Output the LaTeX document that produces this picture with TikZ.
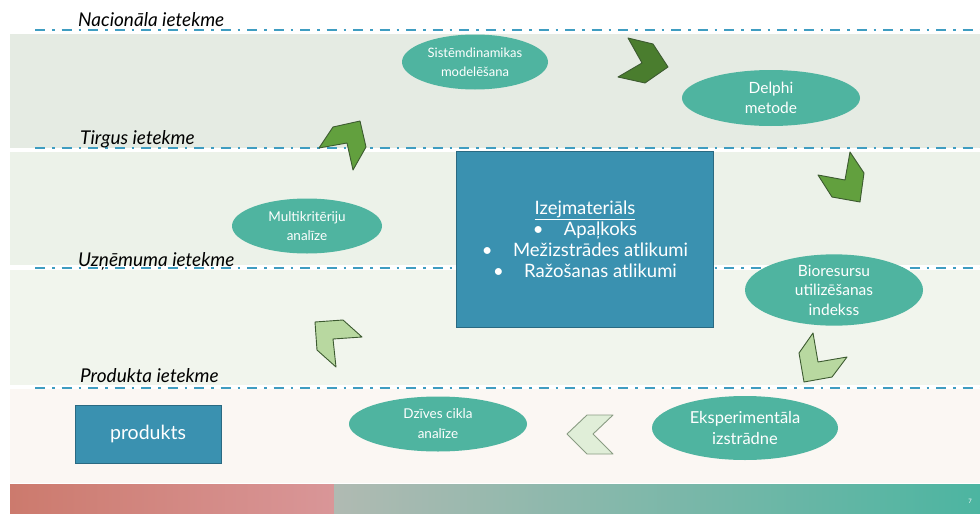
\documentclass[tikz,border=0pt]{standalone}
\usepackage{fontspec}
\setmainfont{Lato}
\usetikzlibrary{shapes.geometric}
\definecolor{bandA}{HTML}{E5EBE3}
\definecolor{bandB}{HTML}{ECF2E9}
\definecolor{bandC}{HTML}{F1F5ED}
\definecolor{bandD}{HTML}{FBF7F3}
\definecolor{dashblue}{HTML}{3F9DC1}
\definecolor{ovalteal}{HTML}{4FB4A0}
\definecolor{boxblue}{HTML}{3A91B0}
\definecolor{boxedge}{HTML}{2A6A82}
\definecolor{chevDark}{HTML}{4A7D2E}
\definecolor{chevMid}{HTML}{62A03E}
\definecolor{chevLight}{HTML}{B8D8A0}
\definecolor{chevPale}{HTML}{E0EED8}
\definecolor{chevEdge}{HTML}{3C5A30}
\definecolor{barRedA}{HTML}{CC7A6D}
\definecolor{barRedB}{HTML}{D99698}
\definecolor{barGreyA}{HTML}{B0BAB2}
\definecolor{barTealB}{HTML}{4CB5A1}
\newcommand{\fsz}[1]{\fontsize{#1}{1.3\dimexpr#1pt\relax}\selectfont}
\tikzset{
  level/.style={draw=dashblue, line width=2.6pt, dash pattern=on 10pt off 7pt on 2.5pt off 7pt},
  levellabel/.style={anchor=base west, inner sep=0pt, font=\fontsize{19}{21}\selectfont\itshape},
  oval/.style={ellipse, fill=ovalteal, text=white, inner sep=0pt, align=center},
  bluebox/.style={rectangle, fill=boxblue, draw=boxedge, line width=0.8pt, text=white, inner sep=0pt, align=center},
  chevron/.style={draw=chevEdge, line width=0.9pt, line join=round},
}
\begin{document}
\begin{tikzpicture}[x=1pt, y=-1pt]
\useasboundingbox (0,0) rectangle (980,514);
\fill[white] (0,0) rectangle (980,514);

% horizontal bands
\fill[bandA] (10,34) rectangle (980,148);
\fill[bandB] (10,152) rectangle (980,265);
\fill[bandC] (10,270) rectangle (980,385);
\fill[bandD] (10,389) rectangle (980,483);

% footer bar
\shade[left color=barRedA, right color=barRedB] (10,484) rectangle (334,514);
\shade[left color=barGreyA, right color=barTealB] (334,484) rectangle (980,514);
\node[text=white, font=\fontsize{6}{7}\selectfont] (pagenum) at (970,501) {7};

% level lines
\draw[level] (35,30) -- (980,30);
\draw[level] (35,148) -- (980,148);
\draw[level] (35,268) -- (980,268);
\draw[level] (35,388) -- (980,388);

\node[levellabel] (lvlnat) at (78,26) {Nacionāla ietekme};
\node[levellabel] (lvlmkt) at (80,144) {Tirgus ietekme};
\node[levellabel] (lvlent) at (78,266) {Uzņēmuma ietekme};
\node[levellabel] (lvlprd) at (80,382) {Produkta ietekme};

% central raw material box
\node[bluebox, minimum width=257pt, minimum height=176pt,
      font=\fontsize{18.5}{21}\selectfont] (raw) at (585,239)
  {\underline{Izejmateriāls}\\
   •\hspace{1.1em}Apaļkoks\\
   •\hspace{1.1em}Mežizstrādes atlikumi\\
   •\hspace{1.1em}Ražošanas atlikumi};

\node[bluebox, minimum width=146pt, minimum height=58pt,
      font=\fontsize{19.5}{22}\selectfont] (prod) at (148,434) {produkts};

% method ovals
\node[oval, minimum width=146pt, minimum height=55pt, font=\fontsize{13}{19}\selectfont] (sd) at (475,62) {Sistēmdinamikas\\modelēšana};
\node[oval, minimum width=178pt, minimum height=56pt, font=\fsz{15.5}] (delphi) at (771,98) {Delphi\\metode};
\node[oval, minimum width=150pt, minimum height=55pt, font=\fontsize{13.5}{19.5}\selectfont] (mca) at (307,226) {Multikritēriju\\analīze};
\node[oval, minimum width=178pt, minimum height=60pt, font=\fontsize{15.5}{19.5}\selectfont] (bio) at (834,290) {Bioresursu\\utilizēšanas\\indekss};
\node[oval, minimum width=186pt, minimum height=64pt, font=\fsz{16.5}] (exp) at (745,428) {Eksperimentāla\\izstrādne};
\node[oval, minimum width=178pt, minimum height=55pt, font=\fontsize{13.5}{20}\selectfont] (lca) at (438,424) {Dzīves cikla\\analīze};

% chevrons around the cycle
\filldraw[chevron, fill=chevMid] (319,148) -- (333,127) -- (360,121) -- (366,147) -- (353,170) -- (347,143) -- cycle;
\filldraw[chevron, fill=chevDark] (628,38) -- (653,44) -- (668,67) -- (645,83) -- (618,77) -- (642,63) -- cycle;
\filldraw[chevron, fill=chevMid] (850,152) -- (864,173) -- (860,202) -- (832,197) -- (818,175) -- (845,180) -- cycle;
\filldraw[chevron, fill=chevLight] (813,333) -- (818,362) -- (847,357) -- (832,377) -- (804,382) -- (799,353) -- cycle;
\filldraw[chevron, draw=chevEdge!60, fill=chevPale] (587,415) -- (613,415) -- (593,434) -- (613,454) -- (587,454) -- (567,434) -- cycle;
\filldraw[chevron, fill=chevLight] (315,322) -- (343,320) -- (362,337) -- (333,339) -- (336,367) -- (317,350) -- cycle;
\end{tikzpicture}
\end{document}
